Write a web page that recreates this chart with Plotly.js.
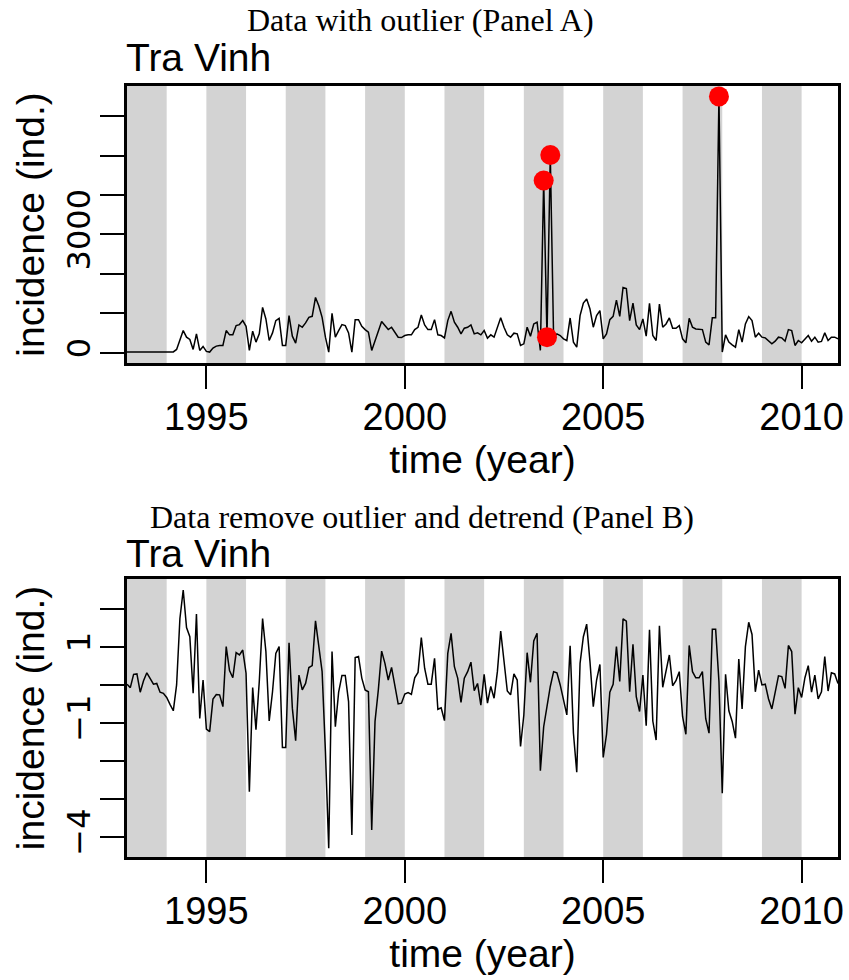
<!DOCTYPE html>
<html><head><meta charset="utf-8">
<script src="https://cdn.plot.ly/plotly-3.0.1.min.js"></script>
<style>html,body{margin:0;padding:0;background:#fff}</style>
</head><body><div id="chart" style="width:849px;height:980px"></div>
<script>
// ---- data ----
const startYear = 1993;           // first monthly observation (January 1993)
const panelTitleA = "Data with outlier (Panel A)";
const panelTitleB = "Data remove outlier and detrend (Panel B)";
const provinceName = "Tra Vinh";
const xTitle = "time (year)";
const yTitle = "incidence (ind.)";

// monthly incidence, one row per year 1993..2010
const rawIncidence = [
  20,18,22,20,15,18,25,22,20,18,20,22,
  25,20,22,84,311,563,395,336,84,479,59,160,
  34,17,118,168,185,185,563,454,454,689,714,815,
  672,59,546,269,479,1151,857,311,504,815,874,185,
  185,941,420,244,706,647,756,899,924,1403,1193,899,
  395,17,1000,395,563,714,689,504,17,840,840,672,
  588,521,59,311,521,790,689,588,647,521,395,386,
  437,454,454,588,647,958,706,588,588,840,454,437,
  378,815,1050,773,647,479,622,647,706,479,504,454,
  563,370,454,395,647,890,647,454,395,496,479,185,
  227,647,420,731,773,59,4368,395,5015,395,479,437,
  353,311,882,269,143,941,1260,1361,1109,647,941,1067,
  353,479,840,924,1336,924,1655,1630,815,1260,706,588,
  857,420,1252,437,311,1235,647,731,882,622,622,689,
  353,252,874,647,605,588,588,269,202,890,890,6502,
  17,454,269,202,143,588,269,731,916,815,395,496,
  395,378,294,227,294,395,378,294,588,563,185,311,
  252,353,437,294,395,269,286,504,311,395,395,353
];

// outlier-removed, detrended series
const detrended = [
  0.02,-0.07,0.28,0.29,-0.19,0.11,0.32,0.16,0.02,0.04,-0.19,-0.22,
  -0.33,-0.51,-0.68,0.00,1.75,2.50,1.51,1.27,-0.22,1.87,-0.88,0.13,
  -1.16,-1.23,-0.37,-0.25,-0.26,-0.57,1.01,0.38,0.19,0.85,0.79,0.92,
  0.31,-2.81,-0.07,-1.18,0.09,1.75,0.88,-0.95,-0.18,0.83,1.01,-1.65,
  -1.65,1.11,-0.61,-1.47,0.26,-0.13,0.04,0.46,0.51,1.69,1.05,0.35,
  -1.75,-4.30,0.88,-1.10,-0.19,0.25,0.25,-0.44,-3.95,0.72,0.75,0.18,
  -0.13,-0.18,-3.82,-0.96,-0.13,0.89,0.57,0.13,0.46,0.02,-0.50,-0.48,
  -0.24,-0.20,-0.25,0.19,0.33,1.25,0.44,0.02,0.02,0.70,-0.64,-0.60,
  -0.94,0.83,1.36,0.48,0.18,-0.46,0.18,0.35,0.60,-0.15,0.04,-0.53,
  0.28,-0.48,-0.04,-0.35,0.35,1.42,0.53,-0.16,-0.26,0.29,0.13,-1.62,
  -0.79,0.85,0.07,1.16,1.36,-2.26,-1.10,-0.53,-0.04,0.35,0.32,0.00,
  -0.42,-0.79,1.03,-1.27,-2.30,0.57,1.27,1.60,0.61,-0.57,0.13,0.54,
  -1.91,-1.30,-0.19,0.02,1.01,0.09,1.74,1.68,-0.18,1.07,-0.31,-0.70,
  0.26,-1.07,1.45,-0.95,-1.45,1.56,-0.06,0.35,0.79,-0.02,0.11,0.35,
  -0.83,-1.30,1.04,0.35,0.19,0.19,0.35,-0.89,-1.27,1.47,1.47,0.09,
  -2.85,0.28,-0.68,-0.96,-1.40,0.68,-0.63,1.01,1.65,1.33,-0.18,0.39,
  0.00,0.02,-0.37,-0.63,-0.19,0.24,0.22,-0.09,1.04,0.88,-0.77,-0.07,
  -0.33,0.19,0.51,-0.19,0.26,-0.37,-0.18,0.75,-0.16,0.32,0.29,0.04
];

const outlierMonths = [126, 127, 128, 179];     // indices into the monthly series
const shadedYears = [1993,1995,1997,1999,2001,2003,2005,2007,2009];
const xTickVals = [1995, 2000, 2005, 2010];
const yTickValsA = [0,1000,2000,3000,4000,5000,6000];
const yTickTextA = ["0","","","3000","","",""];
const yTickValsB = [-4,-3,-2,-1,0,1,2];
const yTickTextB = ["\u22124","","","\u22121","","1",""];

// ---- derived ----
const time = rawIncidence.map((_, i) => startYear + i / 12);
const outT = outlierMonths.map(i => time[i]);
const outV = outlierMonths.map(i => rawIncidence[i]);

// ---- layout geometry (pixels) ----
const W = 849, H = 980;
const mL = 127, mR = 11, mT = 86, mB = 123;
const pw = W - mL - mR, ph = H - mT - mB;
const px = x => (x - mL) / pw;
const py = y => (H - mB - y) / ph;

const sans = "Liberation Sans, Arial, sans-serif";
const serif = "Liberation Serif, Times New Roman, serif";
const black = "#000";

function xAxis(anchor) {
  return {
    anchor: anchor, range: [startYear, time[time.length - 1]],
    tickmode: "array", tickvals: xTickVals, ticktext: xTickVals.map(String),
    ticks: "outside", ticklen: 23, tickwidth: 2, tickcolor: black,
    ticklabelstandoff: -5,
    showline: true, linewidth: 3, linecolor: black, mirror: true,
    showgrid: false, zeroline: false,
    tickfont: {family: sans, size: 38, color: black},
    title: {text: xTitle, font: {family: sans, size: 39, color: black}, standoff: 6}
  };
}
function yAxis(anchor, domain, range, vals, text) {
  return {
    anchor: anchor, domain: domain, range: range,
    tickmode: "array", tickvals: vals, ticktext: text, tickangle: -90,
    ticks: "outside", ticklen: 24, tickwidth: 2, tickcolor: black,
    ticklabelstandoff: -3,
    showline: true, linewidth: 3, linecolor: black, mirror: true,
    showgrid: false, zeroline: false,
    tickfont: {family: "DejaVu Sans, sans-serif", size: 32, color: black},
    title: {text: yTitle, font: {family: sans, size: 39, color: black}, standoff: 4}
  };
}

const shapes = [];
shadedYears.forEach(y0 => {
  [["x", "y domain"], ["x2", "y2 domain"]].forEach(([xr, yr]) => {
    shapes.push({type: "rect", xref: xr, yref: yr, x0: y0, x1: y0 + 1, y0: 0, y1: 1,
      fillcolor: "#d3d3d3", line: {width: 0}, layer: "below"});
  });
});

const traces = [
  {x: time, y: rawIncidence, type: "scatter", mode: "lines", xaxis: "x", yaxis: "y",
   line: {color: black, width: 1.5}, hoverinfo: "skip"},
  {x: outT, y: outV, type: "scatter", mode: "markers", xaxis: "x", yaxis: "y",
   marker: {color: "#ff0000", size: 20}, cliponaxis: false},
  {x: time, y: detrended, type: "scatter", mode: "lines", xaxis: "x2", yaxis: "y2",
   line: {color: black, width: 1.5}}
];

const layout = {
  width: W, height: H, showlegend: false,
  margin: {l: mL, r: mR, t: mT, b: mB, pad: 0},
  paper_bgcolor: "#fff", plot_bgcolor: "#fff",
  xaxis: xAxis("y"),
  yaxis: yAxis("x", [py(363), 1], [-260, 6766], yTickValsA, yTickTextA),
  xaxis2: xAxis("y2"),
  yaxis2: yAxis("x2", [0, py(579)], [-4.53, 2.79], yTickValsB, yTickTextB),
  shapes: shapes,
  annotations: [
    {text: panelTitleA, xref: "paper", yref: "paper", x: px(420), y: py(20),
     xanchor: "center", yanchor: "middle", showarrow: false,
     font: {family: serif, size: 32, color: black}},
    {text: provinceName, xref: "paper", yref: "paper", x: px(124), y: py(58),
     xanchor: "left", yanchor: "middle", showarrow: false,
     font: {family: sans, size: 39, color: black}},
    {text: panelTitleB, xref: "paper", yref: "paper", x: px(422), y: py(517),
     xanchor: "center", yanchor: "middle", showarrow: false,
     font: {family: serif, size: 32, color: black}},
    {text: provinceName, xref: "paper", yref: "paper", x: px(124), y: py(553),
     xanchor: "left", yanchor: "middle", showarrow: false,
     font: {family: sans, size: 39, color: black}}
  ]
};

Plotly.newPlot("chart", traces, layout, {displayModeBar: false, staticPlot: true});
</script>
</body></html>
